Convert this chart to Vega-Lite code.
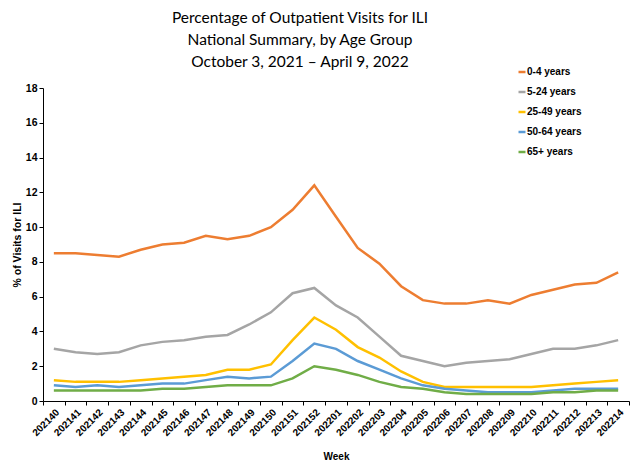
{
  "$schema": "https://vega.github.io/schema/vega-lite/v6.json",
  "width": 586,
  "height": 313,
  "autosize": {"type": "none"},
  "padding": {"left": 43, "top": 88, "right": 4, "bottom": 62},
  "background": "white",
  "title": {
    "text": ["Percentage of Outpatient Visits for ILI", "National Summary, by Age Group", "October 3, 2021 – April 9, 2022"],
    "font": "Lato",
    "fontSize": 15.5,
    "fontWeight": "normal",
    "color": "#000000",
    "lineHeight": 22,
    "anchor": "middle",
    "frame": "group",
    "dx": -36,
    "offset": -3
  },
  "data": {
    "values": [
      {"week": "202140", "group": "0-4 years", "value": 8.5},
      {"week": "202141", "group": "0-4 years", "value": 8.5},
      {"week": "202142", "group": "0-4 years", "value": 8.4},
      {"week": "202143", "group": "0-4 years", "value": 8.3},
      {"week": "202144", "group": "0-4 years", "value": 8.7},
      {"week": "202145", "group": "0-4 years", "value": 9.0},
      {"week": "202146", "group": "0-4 years", "value": 9.1},
      {"week": "202147", "group": "0-4 years", "value": 9.5},
      {"week": "202148", "group": "0-4 years", "value": 9.3},
      {"week": "202149", "group": "0-4 years", "value": 9.5},
      {"week": "202150", "group": "0-4 years", "value": 10.0},
      {"week": "202151", "group": "0-4 years", "value": 11.0},
      {"week": "202152", "group": "0-4 years", "value": 12.4},
      {"week": "202201", "group": "0-4 years", "value": 10.6},
      {"week": "202202", "group": "0-4 years", "value": 8.8},
      {"week": "202203", "group": "0-4 years", "value": 7.9},
      {"week": "202204", "group": "0-4 years", "value": 6.6},
      {"week": "202205", "group": "0-4 years", "value": 5.8},
      {"week": "202206", "group": "0-4 years", "value": 5.6},
      {"week": "202207", "group": "0-4 years", "value": 5.6},
      {"week": "202208", "group": "0-4 years", "value": 5.8},
      {"week": "202209", "group": "0-4 years", "value": 5.6},
      {"week": "202210", "group": "0-4 years", "value": 6.1},
      {"week": "202211", "group": "0-4 years", "value": 6.4},
      {"week": "202212", "group": "0-4 years", "value": 6.7},
      {"week": "202213", "group": "0-4 years", "value": 6.8},
      {"week": "202214", "group": "0-4 years", "value": 7.4},

      {"week": "202140", "group": "5-24 years", "value": 3.0},
      {"week": "202141", "group": "5-24 years", "value": 2.8},
      {"week": "202142", "group": "5-24 years", "value": 2.7},
      {"week": "202143", "group": "5-24 years", "value": 2.8},
      {"week": "202144", "group": "5-24 years", "value": 3.2},
      {"week": "202145", "group": "5-24 years", "value": 3.4},
      {"week": "202146", "group": "5-24 years", "value": 3.5},
      {"week": "202147", "group": "5-24 years", "value": 3.7},
      {"week": "202148", "group": "5-24 years", "value": 3.8},
      {"week": "202149", "group": "5-24 years", "value": 4.4},
      {"week": "202150", "group": "5-24 years", "value": 5.1},
      {"week": "202151", "group": "5-24 years", "value": 6.2},
      {"week": "202152", "group": "5-24 years", "value": 6.5},
      {"week": "202201", "group": "5-24 years", "value": 5.5},
      {"week": "202202", "group": "5-24 years", "value": 4.8},
      {"week": "202203", "group": "5-24 years", "value": 3.7},
      {"week": "202204", "group": "5-24 years", "value": 2.6},
      {"week": "202205", "group": "5-24 years", "value": 2.3},
      {"week": "202206", "group": "5-24 years", "value": 2.0},
      {"week": "202207", "group": "5-24 years", "value": 2.2},
      {"week": "202208", "group": "5-24 years", "value": 2.3},
      {"week": "202209", "group": "5-24 years", "value": 2.4},
      {"week": "202210", "group": "5-24 years", "value": 2.7},
      {"week": "202211", "group": "5-24 years", "value": 3.0},
      {"week": "202212", "group": "5-24 years", "value": 3.0},
      {"week": "202213", "group": "5-24 years", "value": 3.2},
      {"week": "202214", "group": "5-24 years", "value": 3.5},

      {"week": "202140", "group": "25-49 years", "value": 1.2},
      {"week": "202141", "group": "25-49 years", "value": 1.1},
      {"week": "202142", "group": "25-49 years", "value": 1.1},
      {"week": "202143", "group": "25-49 years", "value": 1.1},
      {"week": "202144", "group": "25-49 years", "value": 1.2},
      {"week": "202145", "group": "25-49 years", "value": 1.3},
      {"week": "202146", "group": "25-49 years", "value": 1.4},
      {"week": "202147", "group": "25-49 years", "value": 1.5},
      {"week": "202148", "group": "25-49 years", "value": 1.8},
      {"week": "202149", "group": "25-49 years", "value": 1.8},
      {"week": "202150", "group": "25-49 years", "value": 2.1},
      {"week": "202151", "group": "25-49 years", "value": 3.5},
      {"week": "202152", "group": "25-49 years", "value": 4.8},
      {"week": "202201", "group": "25-49 years", "value": 4.1},
      {"week": "202202", "group": "25-49 years", "value": 3.1},
      {"week": "202203", "group": "25-49 years", "value": 2.5},
      {"week": "202204", "group": "25-49 years", "value": 1.7},
      {"week": "202205", "group": "25-49 years", "value": 1.1},
      {"week": "202206", "group": "25-49 years", "value": 0.8},
      {"week": "202207", "group": "25-49 years", "value": 0.8},
      {"week": "202208", "group": "25-49 years", "value": 0.8},
      {"week": "202209", "group": "25-49 years", "value": 0.8},
      {"week": "202210", "group": "25-49 years", "value": 0.8},
      {"week": "202211", "group": "25-49 years", "value": 0.9},
      {"week": "202212", "group": "25-49 years", "value": 1.0},
      {"week": "202213", "group": "25-49 years", "value": 1.1},
      {"week": "202214", "group": "25-49 years", "value": 1.2},

      {"week": "202140", "group": "50-64 years", "value": 0.9},
      {"week": "202141", "group": "50-64 years", "value": 0.8},
      {"week": "202142", "group": "50-64 years", "value": 0.9},
      {"week": "202143", "group": "50-64 years", "value": 0.8},
      {"week": "202144", "group": "50-64 years", "value": 0.9},
      {"week": "202145", "group": "50-64 years", "value": 1.0},
      {"week": "202146", "group": "50-64 years", "value": 1.0},
      {"week": "202147", "group": "50-64 years", "value": 1.2},
      {"week": "202148", "group": "50-64 years", "value": 1.4},
      {"week": "202149", "group": "50-64 years", "value": 1.3},
      {"week": "202150", "group": "50-64 years", "value": 1.4},
      {"week": "202151", "group": "50-64 years", "value": 2.3},
      {"week": "202152", "group": "50-64 years", "value": 3.3},
      {"week": "202201", "group": "50-64 years", "value": 3.0},
      {"week": "202202", "group": "50-64 years", "value": 2.3},
      {"week": "202203", "group": "50-64 years", "value": 1.8},
      {"week": "202204", "group": "50-64 years", "value": 1.3},
      {"week": "202205", "group": "50-64 years", "value": 0.9},
      {"week": "202206", "group": "50-64 years", "value": 0.7},
      {"week": "202207", "group": "50-64 years", "value": 0.6},
      {"week": "202208", "group": "50-64 years", "value": 0.5},
      {"week": "202209", "group": "50-64 years", "value": 0.5},
      {"week": "202210", "group": "50-64 years", "value": 0.5},
      {"week": "202211", "group": "50-64 years", "value": 0.6},
      {"week": "202212", "group": "50-64 years", "value": 0.7},
      {"week": "202213", "group": "50-64 years", "value": 0.7},
      {"week": "202214", "group": "50-64 years", "value": 0.7},

      {"week": "202140", "group": "65+ years", "value": 0.6},
      {"week": "202141", "group": "65+ years", "value": 0.6},
      {"week": "202142", "group": "65+ years", "value": 0.6},
      {"week": "202143", "group": "65+ years", "value": 0.6},
      {"week": "202144", "group": "65+ years", "value": 0.6},
      {"week": "202145", "group": "65+ years", "value": 0.7},
      {"week": "202146", "group": "65+ years", "value": 0.7},
      {"week": "202147", "group": "65+ years", "value": 0.8},
      {"week": "202148", "group": "65+ years", "value": 0.9},
      {"week": "202149", "group": "65+ years", "value": 0.9},
      {"week": "202150", "group": "65+ years", "value": 0.9},
      {"week": "202151", "group": "65+ years", "value": 1.3},
      {"week": "202152", "group": "65+ years", "value": 2.0},
      {"week": "202201", "group": "65+ years", "value": 1.8},
      {"week": "202202", "group": "65+ years", "value": 1.5},
      {"week": "202203", "group": "65+ years", "value": 1.1},
      {"week": "202204", "group": "65+ years", "value": 0.8},
      {"week": "202205", "group": "65+ years", "value": 0.7},
      {"week": "202206", "group": "65+ years", "value": 0.5},
      {"week": "202207", "group": "65+ years", "value": 0.4},
      {"week": "202208", "group": "65+ years", "value": 0.4},
      {"week": "202209", "group": "65+ years", "value": 0.4},
      {"week": "202210", "group": "65+ years", "value": 0.4},
      {"week": "202211", "group": "65+ years", "value": 0.5},
      {"week": "202212", "group": "65+ years", "value": 0.5},
      {"week": "202213", "group": "65+ years", "value": 0.6},
      {"week": "202214", "group": "65+ years", "value": 0.6}
    ]
  },
  "mark": {"type": "line", "strokeWidth": 2.5, "interpolate": "linear"},
  "encoding": {
    "x": {
      "field": "week",
      "type": "ordinal",
      "scale": {"type": "band", "paddingInner": 0, "paddingOuter": 0},
      "axis": {
        "title": "Week",
        "titleFont": "Liberation Sans Narrow, Liberation Sans",
        "titleFontSize": 10,
        "titleFontWeight": "bold",
        "titleColor": "#000000",
        "titlePadding": 14,
        "labelAngle": -45,
        "labelFont": "Liberation Sans Narrow, Liberation Sans",
        "labelFontSize": 10,
        "labelFontWeight": "bold",
        "labelColor": "#000000",
        "labelPadding": 2,
        "tickBand": "extent",
        "tickSize": 4,
        "tickColor": "#000000",
        "domainColor": "#000000",
        "grid": false
      }
    },
    "y": {
      "field": "value",
      "type": "quantitative",
      "scale": {"domain": [0, 18]},
      "axis": {
        "title": "% of Visits for ILI",
        "titleFont": "Liberation Sans Narrow, Liberation Sans",
        "titleFontSize": 10.5,
        "titleFontWeight": "bold",
        "titleColor": "#000000",
        "titlePadding": 3,
        "values": [0, 2, 4, 6, 8, 10, 12, 14, 16, 18],
        "labelFont": "Liberation Sans Narrow, Liberation Sans",
        "labelFontSize": 10.5,
        "labelFontWeight": "bold",
        "labelColor": "#000000",
        "labelPadding": 2,
        "tickSize": 4,
        "tickColor": "#000000",
        "domainColor": "#000000",
        "grid": false
      }
    },
    "color": {
      "field": "group",
      "type": "nominal",
      "scale": {
        "domain": ["0-4 years", "5-24 years", "25-49 years", "50-64 years", "65+ years"],
        "range": ["#ED7D31", "#A5A5A5", "#FFC000", "#5B9BD5", "#70AD47"]
      },
      "legend": {
        "title": null,
        "orient": "none",
        "legendX": 474,
        "legendY": -21,
        "padding": 0,
        "symbolType": "stroke",
        "symbolStrokeWidth": 2.5,
        "symbolSize": 49,
        "labelFont": "Liberation Sans Narrow, Liberation Sans",
        "labelFontSize": 10,
        "labelFontWeight": "bold",
        "labelColor": "#000000",
        "labelOffset": 0,
        "rowPadding": 10
      }
    }
  },
  "config": {
    "view": {"stroke": null}
  }
}
